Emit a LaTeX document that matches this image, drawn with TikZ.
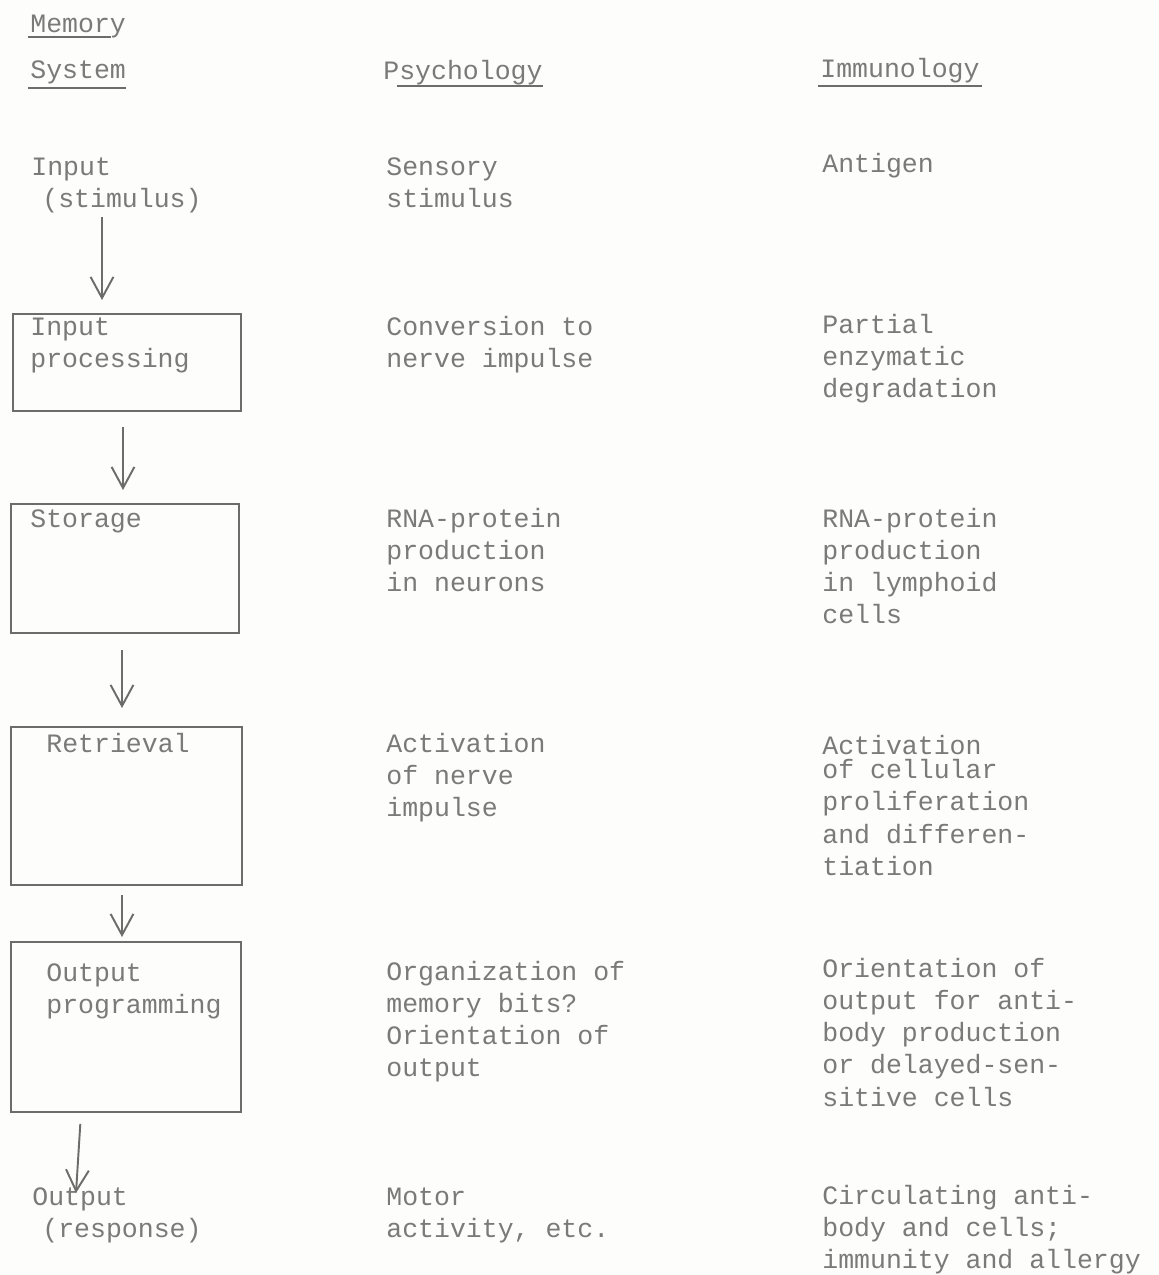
\documentclass[tikz,border=0pt]{standalone}
\usepackage{fontspec}
\setmonofont{Liberation Mono}
\usepackage{tikz}
\usetikzlibrary{arrows.meta, positioning}

\definecolor{ink}{HTML}{7A7A7A}
\definecolor{rule}{HTML}{6C6C6C}
\definecolor{paper}{HTML}{FDFDFB}
% lines of typed text, baseline on the first line
\newcommand{\typed}[1]{\begin{tabular}[t]{@{}l@{}}#1\end{tabular}}

\begin{document}
\begin{tikzpicture}[x=0.02cm, y=-0.02cm,
	txt/.style={anchor=base west, inner sep=0pt, text=ink,
		font=\ttfamily\fontsize{15.1pt}{18.4pt}\selectfont},
	stage/.style={draw=rule, line width=1.1pt, inner sep=0pt, anchor=north west},
	arr/.style={draw=rule, line width=1.1pt, -{Straight Barb[length=12pt, width=13pt]}},
	uline/.style={draw=rule, line width=1.1pt}]
			\fill[paper] (0,0) rectangle (1159,1275);
			\useasboundingbox (0,0) rectangle (1159,1275);
			% headings
			\node[txt] (mem) at (30,32) {Memory};
			\node[txt] (sys) at (30,78) {System};
			\node[txt] (psy) at (383,79) {Psychology};
			\node[txt] (imm) at (820,77) {Immunology};
			\draw[uline] ([xshift=-1pt, yshift=-3pt]mem.base west) -- ([xshift=-0.3cm, yshift=-3pt]mem.base east);
			\draw[uline] ([xshift=-1pt, yshift=-5.5pt]sys.base west) -- ([yshift=-5.5pt]sys.base east);
			\draw[uline] ([xshift=8pt, yshift=-4pt]psy.base west) -- ([yshift=-4pt]psy.base east);
			\draw[uline] ([xshift=-1pt, yshift=-5pt]imm.base west) -- ([xshift=1pt, yshift=-5pt]imm.base east);
			% memory system column
			\node[txt] (inp) at (31,175) {\typed{Input\\\hspace*{0.22cm}(stimulus)}};
			\node[stage, minimum width=4.56cm, minimum height=1.94cm] (proc) at (12,313) {};
			\node[stage, minimum width=4.56cm, minimum height=2.58cm] (stor) at (10,503) {};
			\node[stage, minimum width=4.62cm, minimum height=3.16cm] (retr) at (10,726) {};
			\node[stage, minimum width=4.60cm, minimum height=3.40cm] (prog) at (10,941) {};
			\node[txt] (proct) at (30,335) {\typed{Input\\processing}};
			\node[txt] (stort) at (30,527) {Storage};
			\node[txt] (retrt) at (46,752) {Retrieval};
			\node[txt] (progt) at (46,981) {\typed{Output\\programming}};
			\node[txt] (outp) at (32,1205) {\typed{Output\\\hspace*{0.2cm}(response)}};
			\coordinate (c1) at (102,0);
			\coordinate (c2) at (123,0);
			\coordinate (c3) at (122,0);
			\coordinate (c4) at (81,0);
			\coordinate (c5) at (76,1193);
			\draw[arr, shorten >=0.26cm] (inp.south -| c1) -- (proc.north -| c1);
			\draw[arr, shorten <=0.3cm, shorten >=0.26cm] (proc.south -| c2) -- (stor.north -| c2);
			\draw[arr, shorten <=0.32cm, shorten >=0.36cm] (stor.south -| c3) -- (retr.north -| c3);
			\draw[arr, shorten <=0.18cm, shorten >=0.08cm] (retr.south -| c3) -- (prog.north -| c3);
			\draw[arr, shorten <=0.22cm] (prog.south -| c4) -- (c5);
			% psychology column
			\node[txt] (psy1) at (386,175) {\typed{Sensory\\stimulus}};
			\node[txt] (psy2) at (386,335) {\typed{Conversion to\\nerve impulse}};
			\node[txt] (psy3) at (386,527) {\typed{RNA-protein\\production\\in neurons}};
			\node[txt] (psy4) at (386,752) {\typed{Activation\\of nerve\\impulse}};
			\node[txt] (psy5) at (386,980) {\typed{Organization of\\memory bits?\\Orientation of\\output}};
			\node[txt] (psy6) at (386,1205) {\typed{Motor\\activity, etc.}};
			% immunology column
			\node[txt] (imm1) at (822,172) {Antigen};
			\node[txt] (imm2) at (822,333) {\typed{Partial\\enzymatic\\degradation}};
			\node[txt] (imm3) at (822,527) {\typed{RNA-protein\\production\\in lymphoid\\cells}};
			\node[txt] (imm4) at (822,754) {\typed{Activation\\[-4.5pt]of cellular\\proliferation\\and differen-\\tiation}};
			\node[txt] (imm5) at (822,977) {\typed{Orientation of\\output for anti-\\body production\\or delayed-sen-\\sitive cells}};
			\node[txt] (imm6) at (822,1204) {\typed{Circulating anti-\\body and cells;\\immunity and allergy}};
		\end{tikzpicture}
\end{document}
